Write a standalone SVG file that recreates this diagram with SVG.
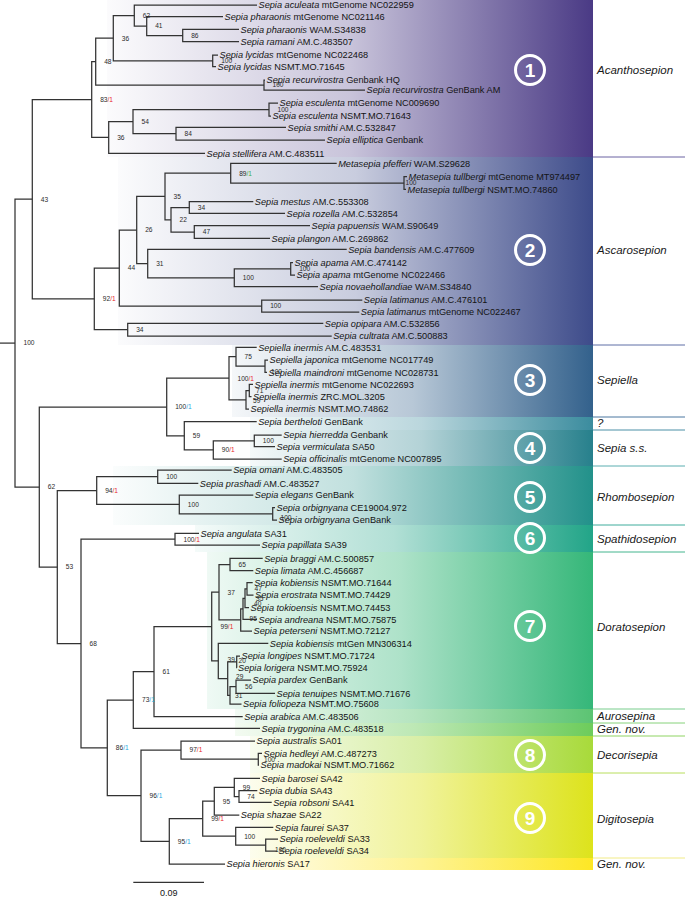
<svg xmlns="http://www.w3.org/2000/svg" width="685" height="897" viewBox="0 0 685 897">
<style>
text{font-family:"Liberation Sans",Arial,sans-serif}
.t{font-size:9.2px;fill:#141414}
.i{font-style:italic}
.n{font-size:6.6px;fill:#2a2a2a}
.r{fill:#e8262b}.b{fill:#29a9e1}.g{fill:#3fae49}
.e{fill:none;stroke:#333;stroke-width:1.25}
.cl{font-size:11.5px;font-style:italic;fill:#1a1a1a}
.cn circle{fill:none;stroke:#fff;stroke-width:3}
.cn text{fill:#fff;font-size:19px;font-weight:bold;text-anchor:middle}
.sep{stroke-width:1;fill:none}
</style>
<defs>
<linearGradient id="g1"><stop offset="0" stop-color="#4a3a85" stop-opacity="0.02"/><stop offset="0.5" stop-color="#4a3a85" stop-opacity="0.3"/><stop offset="1" stop-color="#4a3a85"/></linearGradient>
<linearGradient id="g2"><stop offset="0" stop-color="#3d4b8a" stop-opacity="0.02"/><stop offset="0.5" stop-color="#3d4b8a" stop-opacity="0.28"/><stop offset="1" stop-color="#3d4b8a"/></linearGradient>
<linearGradient id="g3"><stop offset="0" stop-color="#33618c" stop-opacity="0.05"/><stop offset="0.5" stop-color="#33618c" stop-opacity="0.35"/><stop offset="1" stop-color="#33618c"/></linearGradient>
<linearGradient id="gq"><stop offset="0" stop-color="#3b8c9e" stop-opacity="0.05"/><stop offset="0.5" stop-color="#3b8c9e" stop-opacity="0.35"/><stop offset="1" stop-color="#3b8c9e"/></linearGradient>
<linearGradient id="g4"><stop offset="0" stop-color="#27808c" stop-opacity="0.05"/><stop offset="0.5" stop-color="#27808c" stop-opacity="0.35"/><stop offset="1" stop-color="#27808c"/></linearGradient>
<linearGradient id="g5"><stop offset="0" stop-color="#22918a" stop-opacity="0.02"/><stop offset="0.5" stop-color="#22918a" stop-opacity="0.28"/><stop offset="1" stop-color="#22918a"/></linearGradient>
<linearGradient id="g6"><stop offset="0" stop-color="#22a588" stop-opacity="0.05"/><stop offset="0.5" stop-color="#22a588" stop-opacity="0.35"/><stop offset="1" stop-color="#22a588"/></linearGradient>
<linearGradient id="g7"><stop offset="0" stop-color="#35b779" stop-opacity="0.08"/><stop offset="0.5" stop-color="#35b779" stop-opacity="0.4"/><stop offset="1" stop-color="#35b779"/></linearGradient>
<linearGradient id="ga"><stop offset="0" stop-color="#5cc473" stop-opacity="0.08"/><stop offset="0.5" stop-color="#5cc473" stop-opacity="0.45"/><stop offset="1" stop-color="#5cc473"/></linearGradient>
<linearGradient id="gg"><stop offset="0" stop-color="#6dcc5b" stop-opacity="0.08"/><stop offset="0.5" stop-color="#6dcc5b" stop-opacity="0.45"/><stop offset="1" stop-color="#6dcc5b"/></linearGradient>
<linearGradient id="g8"><stop offset="0" stop-color="#a8da3a" stop-opacity="0.08"/><stop offset="0.5" stop-color="#a8da3a" stop-opacity="0.45"/><stop offset="1" stop-color="#a8da3a"/></linearGradient>
<linearGradient id="g9"><stop offset="0" stop-color="#dde31c" stop-opacity="0.08"/><stop offset="0.5" stop-color="#dde31c" stop-opacity="0.45"/><stop offset="1" stop-color="#dde31c"/></linearGradient>
<linearGradient id="gz"><stop offset="0" stop-color="#fde725" stop-opacity="0.1"/><stop offset="0.5" stop-color="#fde725" stop-opacity="0.5"/><stop offset="1" stop-color="#fde725"/></linearGradient>
</defs>
<rect width="685" height="897" fill="#fff"/>

<g id="bands">
<rect x="107" y="0" width="486" height="157" fill="url(#g1)"/>
<rect x="118" y="157" width="475" height="188" fill="url(#g2)"/>
<rect x="232" y="345" width="361" height="72" fill="url(#g3)"/>
<rect x="250" y="417" width="343" height="13" fill="url(#gq)"/>
<rect x="250" y="430" width="343" height="36" fill="url(#g4)"/>
<rect x="113" y="466" width="480" height="59" fill="url(#g5)"/>
<rect x="195" y="525" width="398" height="27" fill="url(#g6)"/>
<rect x="207" y="552" width="386" height="157" fill="url(#g7)"/>
<rect x="235" y="709" width="358" height="14" fill="url(#ga)"/>
<rect x="235" y="723" width="358" height="13" fill="url(#gg)"/>
<rect x="250" y="736" width="343" height="37" fill="url(#g8)"/>
<rect x="250" y="773" width="343" height="85" fill="url(#g9)"/>
<rect x="250" y="858" width="343" height="12" fill="url(#gz)"/>
</g>

<g id="separators" class="sep">
<path d="M593 157H685" stroke="#6b62a2"/>
<path d="M593 345H685" stroke="#5e6ea6"/>
<path d="M593 417H685" stroke="#4a76a0"/>
<path d="M593 430H685" stroke="#4a8fa6"/>
<path d="M593 466H685" stroke="#5aaeb0"/>
<path d="M593 525H685" stroke="#3fac9c"/>
<path d="M593 552H685" stroke="#45b58e"/>
<path d="M593 709H685" stroke="#78cd8c"/>
<path d="M593 723H685" stroke="#86d27a"/>
<path d="M593 736H685" stroke="#8fd462"/>
<path d="M593 773H685" stroke="#b8de5c"/>
<path d="M593 858H685" stroke="#f1eb86"/>
</g>

<g id="clade-markers" class="cn">
<g id="m1"><circle cx="530" cy="70" r="14.5"/><text x="530" y="77">1</text></g>
<g id="m2"><circle cx="530" cy="250" r="14.5"/><text x="530" y="257">2</text></g>
<g id="m3"><circle cx="530" cy="380" r="14.5"/><text x="530" y="387">3</text></g>
<g id="m4"><circle cx="530" cy="448" r="14.5"/><text x="530" y="455">4</text></g>
<g id="m5"><circle cx="530" cy="497" r="14.5"/><text x="530" y="504">5</text></g>
<g id="m6"><circle cx="530" cy="538" r="14.5"/><text x="530" y="545">6</text></g>
<g id="m7"><circle cx="530" cy="626" r="14.5"/><text x="530" y="633">7</text></g>
<g id="m8"><circle cx="530" cy="755" r="14.5"/><text x="530" y="762">8</text></g>
<g id="m9"><circle cx="530" cy="818" r="14.5"/><text x="530" y="825">9</text></g>
</g>

<g id="clade-names" class="cl">
<text x="597" y="74">Acanthosepion</text>
<text x="597" y="254">Ascarosepion</text>
<text x="597" y="384">Sepiella</text>
<text x="597" y="427">?</text>
<text x="597" y="452">Sepia s.s.</text>
<text x="597" y="501">Rhombosepion</text>
<text x="597" y="543">Spathidosepion</text>
<text x="597" y="631">Doratosepion</text>
<text x="597" y="720">Aurosepina</text>
<text x="597" y="733">Gen. nov.</text>
<text x="597" y="759">Decorisepia</text>
<text x="597" y="823">Digitosepia</text>
<text x="597" y="868">Gen. nov.</text>
</g>

<g id="connectors" class="e">
<path d="M239 29.3H182.7V41.7H239"/>
<path d="M223 16.7H146.7V35.5H182.7"/>
<path d="M257 5H134.3V26.1H146.7"/>
<path d="M218 55H212.7V66.7H216"/>
<path d="M134.3 15.55H113.3V60.85H212.7"/>
<path d="M265 80H264V90H365"/>
<path d="M113.3 38.2H95.7V85H264"/>
<path d="M278 103H269V116H271"/>
<path d="M286 127.3H176V140H325"/>
<path d="M269 109.5H133V133.65H176"/>
<path d="M133 121.6H108.7V153.3H205"/>
<path d="M95.7 61.6H91.7V137.45H108.7"/>
<path d="M407 176.7H404V189.3H406"/>
<path d="M336.7 163.3H230.7V183H404"/>
<path d="M253.3 201.7H189.3V213.3H285"/>
<path d="M310 225.7H194.3V238.3H270"/>
<path d="M189.3 207.5H171V232H194.3"/>
<path d="M230.7 173.15H165V219.75H171"/>
<path d="M293 262.7H290.7V275H295"/>
<path d="M290.7 268.85H234.3V286.7H318"/>
<path d="M346.7 249.3H147.7V277.8H234.3"/>
<path d="M165 196.45H136.7V263.55H147.7"/>
<path d="M362.3 300H261.7V312H359.3"/>
<path d="M136.7 230H119.3V306H261.7"/>
<path d="M323.3 323.3H127.7V336H331.7"/>
<path d="M119.3 268H94.3V329.65H127.7"/>
<path d="M91.7 99.5H32.3V298.8H94.3"/>
<path d="M268 360H265V372.3H267"/>
<path d="M256.7 347.3H236V366.15H265"/>
<path d="M253 384.3H249.3V396.7H251.5"/>
<path d="M249.3 390.5H246V409H249"/>
<path d="M236 356.7H229V399.75H246"/>
<path d="M281.7 435H254.3V446.7H275"/>
<path d="M254.3 440.85H213.3V459H281.7"/>
<path d="M256.7 421.7H184.3V449.9H213.3"/>
<path d="M229 378.2H166.7V435.8H184.3"/>
<path d="M231.7 470H157.7V483.3H198.3"/>
<path d="M275 507.7H272.7V520H277"/>
<path d="M253.3 495H179.3V513.85H272.7"/>
<path d="M157.7 476.65H96.7V504.4H179.3"/>
<path d="M199 533.3H175V545H260"/>
<path d="M262.7 558.3H230V570.7H253.3"/>
<path d="M252.7 582.7H247V595H253.5"/>
<path d="M247 588.85H245V607.7H249"/>
<path d="M245 598.3H243V619.3H257"/>
<path d="M243 608.8H240.7V631H252"/>
<path d="M230 564.5H219V619.9H240.7"/>
<path d="M240 656H236.7V667.7H237"/>
<path d="M251 680H236V693.3H275"/>
<path d="M236 686.65H230V704H241.5"/>
<path d="M236.7 661.85H227.7V695.3H230"/>
<path d="M268.3 643.3H218.3V678.6H227.7"/>
<path d="M219 592.2H211.7V660.95H218.3"/>
<path d="M211.7 626.6H154V716.7H242.7"/>
<path d="M154 671.65H133.3V728.3H260"/>
<path d="M262 753.3H258.3V765H259"/>
<path d="M255 741H181V759.15H258.3"/>
<path d="M257.3 790.7H239V802.3H271.7"/>
<path d="M260 778.3H234.3V796.5H239"/>
<path d="M234.3 787.4H214.3V815H239.3"/>
<path d="M278 839H265.7V851H277"/>
<path d="M273.3 827.3H235.7V845H265.7"/>
<path d="M214.3 801.2H202.7V836.15H235.7"/>
<path d="M202.7 818.7H169.3V864H225"/>
<path d="M181 750.1H141V841.35H169.3"/>
<path d="M133.3 700H107.3V795.7H141"/>
<path d="M175 539.15H81V747.85H107.3"/>
<path d="M96.7 490.5H57.3V643.5H81"/>
<path d="M166.7 407H39.3V567H57.3"/>
<path d="M32.3 199.15H15V487H39.3"/>
<path d="M0 343.1H15"/>
<path d="M133.3 882.3H204"/>
</g>

<g id="taxa" class="t">
<text x="258.5" y="8.2"><tspan class="i">Sepia aculeata</tspan> mtGenome NC022959</text>
<text x="224.5" y="19.9"><tspan class="i">Sepia pharaonis</tspan> mtGenome NC021146</text>
<text x="240.5" y="32.5"><tspan class="i">Sepia pharaonis</tspan> WAM.S34838</text>
<text x="240.5" y="44.9"><tspan class="i">Sepia ramani</tspan> AM.C.483507</text>
<text x="219.5" y="58.2"><tspan class="i">Sepia lycidas</tspan> mtGenome NC022468</text>
<text x="217.5" y="69.9"><tspan class="i">Sepia lycidas</tspan> NSMT.MO.71645</text>
<text x="266.5" y="83.2"><tspan class="i">Sepia recurvirostra</tspan> Genbank HQ</text>
<text x="366.5" y="93.2"><tspan class="i">Sepia recurvirostra</tspan> GenBank AM</text>
<text x="279.5" y="106.2"><tspan class="i">Sepia esculenta</tspan> mtGenome NC009690</text>
<text x="272.5" y="119.2"><tspan class="i">Sepia esculenta</tspan> NSMT.MO.71643</text>
<text x="287.5" y="130.5"><tspan class="i">Sepia smithi</tspan> AM.C.532847</text>
<text x="326.5" y="143.2"><tspan class="i">Sepia elliptica</tspan> Genbank</text>
<text x="206.5" y="156.5"><tspan class="i">Sepia stellifera</tspan> AM.C.483511</text>
<text x="338.2" y="166.5"><tspan class="i">Metasepia pfefferi</tspan> WAM.S29628</text>
<text x="408.5" y="179.9"><tspan class="i">Metasepia tullbergi</tspan> mtGenome MT974497</text>
<text x="407.5" y="192.5"><tspan class="i">Metasepia tullbergi</tspan> NSMT.MO.74860</text>
<text x="254.8" y="204.9"><tspan class="i">Sepia mestus</tspan> AM.C.553308</text>
<text x="286.5" y="216.5"><tspan class="i">Sepia rozella</tspan> AM.C.532854</text>
<text x="311.5" y="228.9"><tspan class="i">Sepia papuensis</tspan> WAM.S90649</text>
<text x="271.5" y="241.5"><tspan class="i">Sepia plangon</tspan> AM.C.269862</text>
<text x="348.2" y="252.5"><tspan class="i">Sepia bandensis</tspan> AM.C.477609</text>
<text x="294.5" y="265.9"><tspan class="i">Sepia apama</tspan> AM.C.474142</text>
<text x="296.5" y="278.2"><tspan class="i">Sepia apama</tspan> mtGenome NC022466</text>
<text x="319.5" y="289.9"><tspan class="i">Sepia novaehollandiae</tspan> WAM.S34840</text>
<text x="363.8" y="303.2"><tspan class="i">Sepia latimanus</tspan> AM.C.476101</text>
<text x="360.8" y="315.2"><tspan class="i">Sepia latimanus</tspan> mtGenome NC022467</text>
<text x="324.8" y="326.5"><tspan class="i">Sepia opipara</tspan> AM.C.532856</text>
<text x="333.2" y="339.2"><tspan class="i">Sepia cultrata</tspan> AM.C.500883</text>
<text x="258.2" y="350.5"><tspan class="i">Sepiella inermis</tspan> AM.C.483531</text>
<text x="269.5" y="363.2"><tspan class="i">Sepiella japonica</tspan> mtGenome NC017749</text>
<text x="268.5" y="375.5"><tspan class="i">Sepiella maindroni</tspan> mtGenome NC028731</text>
<text x="254.5" y="387.5"><tspan class="i">Sepiella inermis</tspan> mtGenome NC022693</text>
<text x="253" y="399.9"><tspan class="i">Sepiella inermis</tspan> ZRC.MOL.3205</text>
<text x="250.5" y="412.2"><tspan class="i">Sepiella inermis</tspan> NSMT.MO.74862</text>
<text x="258.2" y="424.9"><tspan class="i">Sepia bertheloti</tspan> GenBank</text>
<text x="283.2" y="438.2"><tspan class="i">Sepia hierredda</tspan> Genbank</text>
<text x="276.5" y="449.9"><tspan class="i">Sepia vermiculata</tspan> SA50</text>
<text x="283.2" y="462.2"><tspan class="i">Sepia officinalis</tspan> mtGenome NC007895</text>
<text x="233.2" y="473.2"><tspan class="i">Sepia omani</tspan> AM.C.483505</text>
<text x="199.8" y="486.5"><tspan class="i">Sepia prashadi</tspan> AM.C.483527</text>
<text x="254.8" y="498.2"><tspan class="i">Sepia elegans</tspan> GenBank</text>
<text x="276.5" y="510.9"><tspan class="i">Sepia orbignyana</tspan> CE19004.972</text>
<text x="278.5" y="523.2"><tspan class="i">Sepia orbignyana</tspan> GenBank</text>
<text x="200.5" y="536.5"><tspan class="i">Sepia angulata</tspan> SA31</text>
<text x="261.5" y="548.2"><tspan class="i">Sepia papillata</tspan> SA39</text>
<text x="264.2" y="561.5"><tspan class="i">Sepia braggi</tspan> AM.C.500857</text>
<text x="254.8" y="573.9"><tspan class="i">Sepia limata</tspan> AM.C.456687</text>
<text x="254.2" y="585.9"><tspan class="i">Sepia kobiensis</tspan> NSMT.MO.71644</text>
<text x="255" y="598.2"><tspan class="i">Sepia erostrata</tspan> NSMT.MO.74429</text>
<text x="250.5" y="610.9"><tspan class="i">Sepia tokioensis</tspan> NSMT.MO.74453</text>
<text x="258.5" y="622.5"><tspan class="i">Sepia andreana</tspan> NSMT.MO.75875</text>
<text x="253.5" y="634.2"><tspan class="i">Sepia peterseni</tspan> NSMT.MO.72127</text>
<text x="269.8" y="646.5"><tspan class="i">Sepia kobiensis</tspan> mtGen MN306314</text>
<text x="241.5" y="659.2"><tspan class="i">Sepia longipes</tspan> NSMT.MO.71724</text>
<text x="238" y="670.9"><tspan class="i">Sepia lorigera</tspan> NSMT.MO.75924</text>
<text x="252.5" y="683.2"><tspan class="i">Sepia pardex</tspan> GenBank</text>
<text x="276.5" y="696.5"><tspan class="i">Sepia tenuipes</tspan> NSMT.MO.71676</text>
<text x="243" y="707.2"><tspan class="i">Sepia foliopeza</tspan> NSMT.MO.75608</text>
<text x="244.2" y="719.9"><tspan class="i">Sepia arabica</tspan> AM.C.483506</text>
<text x="261.5" y="731.5"><tspan class="i">Sepia trygonina</tspan> AM.C.483518</text>
<text x="256.5" y="744.2"><tspan class="i">Sepia australis</tspan> SA01</text>
<text x="263.5" y="756.5"><tspan class="i">Sepia hedleyi</tspan> AM.C.487273</text>
<text x="260.5" y="768.2"><tspan class="i">Sepia madokai</tspan> NSMT.MO.71662</text>
<text x="261.5" y="781.5"><tspan class="i">Sepia barosei</tspan> SA42</text>
<text x="258.8" y="793.9"><tspan class="i">Sepia dubia</tspan> SA43</text>
<text x="273.2" y="805.5"><tspan class="i">Sepia robsoni</tspan> SA41</text>
<text x="240.8" y="818.2"><tspan class="i">Sepia shazae</tspan> SA22</text>
<text x="274.8" y="830.5"><tspan class="i">Sepia faurei</tspan> SA37</text>
<text x="279.5" y="842.2"><tspan class="i">Sepia roeleveldi</tspan> SA33</text>
<text x="278.5" y="854.2"><tspan class="i">Sepia roeleveldi</tspan> SA34</text>
<text x="226.5" y="867.2"><tspan class="i">Sepia hieronis</tspan> SA17</text>
</g>

<g id="support" class="n">
<text x="191.2" y="37.8">86</text>
<text x="155.2" y="28.4">41</text>
<text x="142.8" y="17.9">62</text>
<text x="221.2" y="63.2">100</text>
<text x="121.8" y="40.5">36</text>
<text x="272.5" y="87.3">100</text>
<text x="104.2" y="63.9">48</text>
<text x="277.5" y="111.8">100</text>
<text x="184.5" y="136">84</text>
<text x="141.5" y="123.9">54</text>
<text x="117.2" y="139.8">36</text>
<text x="100.2" y="101.8">83<tspan class="r">/1</tspan></text>
<text x="405.5" y="185.3">100</text>
<text x="239.2" y="175.5">89<tspan class="g">/1</tspan></text>
<text x="197.8" y="209.8">34</text>
<text x="202.8" y="234.3">47</text>
<text x="179.5" y="222">22</text>
<text x="173.5" y="198.8">35</text>
<text x="299.2" y="271.2">100</text>
<text x="242.8" y="280.1">100</text>
<text x="156.2" y="265.9">31</text>
<text x="145.2" y="232.3">26</text>
<text x="270.2" y="308.3">100</text>
<text x="127.8" y="270.3">44</text>
<text x="136.2" y="332">34</text>
<text x="102.8" y="301.1">92<tspan class="r">/1</tspan></text>
<text x="40.8" y="201.5">43</text>
<text x="271" y="374">100</text>
<text x="244.5" y="359">75</text>
<text x="256" y="392.8">71</text>
<text x="253" y="403">59</text>
<text x="237.5" y="380.5">100<tspan class="r">/1</tspan></text>
<text x="262.8" y="443.2">100</text>
<text x="221.8" y="452.2">90<tspan class="r">/1</tspan></text>
<text x="192.8" y="438.1">59</text>
<text x="175.2" y="409.3">100<tspan class="b">/1</tspan></text>
<text x="166.2" y="479">100</text>
<text x="280.5" y="520">100</text>
<text x="187.8" y="506.7">100</text>
<text x="105.2" y="492.8">94<tspan class="r">/1</tspan></text>
<text x="183.5" y="541.5">100<tspan class="r">/1</tspan></text>
<text x="238.5" y="566.8">65</text>
<text x="254.5" y="591.2">47</text>
<text x="256" y="600.6">35</text>
<text x="254" y="605.5">40</text>
<text x="249.5" y="621">95</text>
<text x="227.5" y="594.5">37</text>
<text x="238.5" y="663.3">20</text>
<text x="245" y="689">56</text>
<text x="235" y="697.6">31</text>
<text x="236" y="678.6">29</text>
<text x="227.5" y="662.3">39</text>
<text x="220.5" y="628.9">99<tspan class="r">/1</tspan></text>
<text x="162.5" y="674">61</text>
<text x="142" y="702.3">73<tspan class="b">/1</tspan></text>
<text x="264" y="762">100</text>
<text x="189.5" y="752.4">97<tspan class="r">/1</tspan></text>
<text x="247.3" y="798.8">74</text>
<text x="242.8" y="789.7">99</text>
<text x="222.8" y="803.5">95</text>
<text x="275" y="852">100</text>
<text x="244.2" y="838.5">100</text>
<text x="211.2" y="821">99<tspan class="r">/1</tspan></text>
<text x="177.8" y="843.7">95<tspan class="b">/1</tspan></text>
<text x="149.5" y="798">96<tspan class="b">/1</tspan></text>
<text x="115.8" y="750.2">86<tspan class="b">/1</tspan></text>
<text x="89.5" y="645.8">68</text>
<text x="65.8" y="569.3">53</text>
<text x="47.8" y="489.3">62</text>
<text x="23.5" y="345.4">100</text>
</g>

<g id="scale" class="t">
<text x="168.7" y="895.5" text-anchor="middle" style="font-size:9px">0.09</text>
</g>
</svg>
